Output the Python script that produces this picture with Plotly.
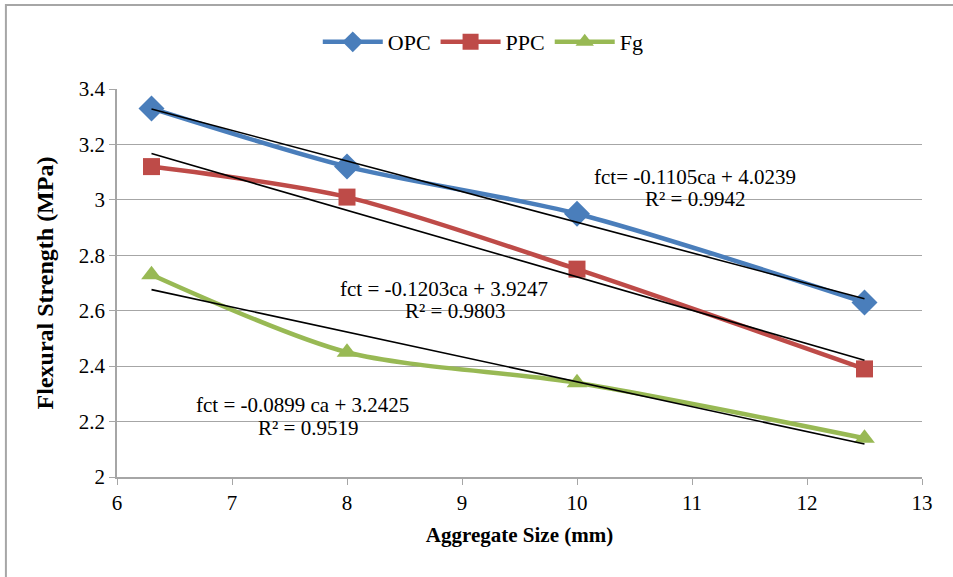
import plotly.graph_objects as go

# Data
agg_size = [6.3, 8, 10, 12.5]
opc = [3.33, 3.12, 2.95, 2.63]
ppc = [3.12, 3.01, 2.75, 2.39]
fg = [2.73, 2.45, 2.34, 2.14]

trend_x = [6.3, 12.5]
opc_trend = [3.328, 2.643]
ppc_trend = [3.167, 2.421]
fg_trend = [2.676, 2.119]

x_ticks = [6, 7, 8, 9, 10, 11, 12, 13]
y_ticks = [2, 2.2, 2.4, 2.6, 2.8, 3, 3.2, 3.4]
y_tick_labels = ["2", "2.2", "2.4", "2.6", "2.8", "3", "3.2", "3.4"]

FONT = "Liberation Serif"

fig = go.Figure()

series = [
    ("OPC", opc, "#4A7EBB", "diamond", 20),
    ("PPC", ppc, "#BE4B48", "square", 17),
    ("Fg", fg, "#98B954", "triangle-up", 18),
]
for name, vals, col, sym, sz in series:
    fig.add_trace(go.Scatter(
        x=agg_size, y=vals, name=name, mode="lines+markers",
        line=dict(color=col, width=4.5, shape="spline", smoothing=0.8),
        marker=dict(symbol=sym, size=sz, color=col),
    ))

for tr in [opc_trend, ppc_trend, fg_trend]:
    fig.add_trace(go.Scatter(
        x=trend_x, y=tr, mode="lines", showlegend=False,
        line=dict(color="black", width=1.6), hoverinfo="skip",
    ))

annots = [
    (11.03, 3.082, "fct= -0.1105ca + 4.0239"),
    (11.03, 3.003, "R² = 0.9942"),
    (8.84, 2.678, "fct = -0.1203ca + 3.9247"),
    (8.94, 2.599, "R² = 0.9803"),
    (7.61, 2.259, "fct = -0.0899 ca + 3.2425"),
    (7.66, 2.176, "R² = 0.9519"),
]
for ax, ay, txt in annots:
    fig.add_annotation(x=ax, y=ay, xref="x", yref="y", text=txt, showarrow=False,
                       font=dict(family=FONT, size=21, color="black"))

fig.add_shape(type="rect", xref="paper", yref="paper",
              x0=-0.138, x1=1.05, y0=-0.3, y1=1.2165,
              line=dict(color="#A6A6A6", width=2), layer="below")

fig.update_layout(
    width=953, height=577,
    margin=dict(l=117, r=31, t=89, b=100),
    paper_bgcolor="white", plot_bgcolor="white",
    font=dict(family=FONT, size=20, color="black"),
    legend=dict(orientation="h", x=0.455, y=1.121, xanchor="center", yanchor="middle",
                font=dict(family=FONT, size=22), itemwidth=60, traceorder="normal"),
    xaxis=dict(range=[6, 13], tickvals=x_ticks, showgrid=False,
               showline=True, linecolor="#A6A6A6", linewidth=1.5,
               ticks="outside", tickcolor="#A6A6A6", ticklen=6, zeroline=False,
               tickfont=dict(family=FONT, size=21),
               title=dict(text="<b>Aggregate Size (mm)</b>", font=dict(family=FONT, size=21), standoff=13)),
    yaxis=dict(range=[2, 3.4], tickvals=y_ticks, ticktext=y_tick_labels,
               showgrid=True, gridcolor="#A6A6A6", gridwidth=1.2,
               showline=True, linecolor="#A6A6A6", linewidth=1.5,
               ticks="outside", tickcolor="#A6A6A6", ticklen=6, zeroline=False,
               tickfont=dict(family=FONT, size=21),
               title=dict(text="<b>Flexural Strength (MPa)</b>", font=dict(family=FONT, size=24), standoff=18)),
)

fig.write_html("out.html")
